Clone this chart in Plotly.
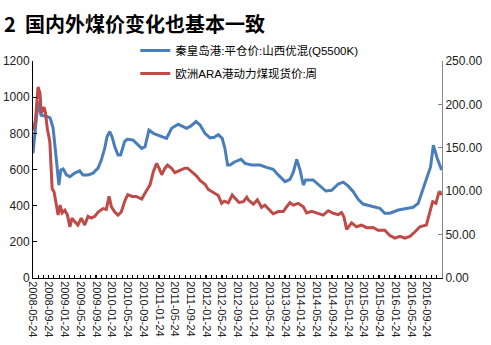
import plotly.graph_objects as go

# 秦皇岛港:平仓价:山西优混(Q5500K)  (left axis, 元/吨)
qhd_dates = [
    "2008-05-24", "2008-06-09", "2008-07-02", "2008-07-25", "2008-09-02", "2008-10-03",
    "2008-10-26", "2008-11-13", "2008-11-29", "2008-12-10", "2008-12-25", "2009-01-12",
    "2009-02-07", "2009-03-05", "2009-04-11", "2009-05-20", "2009-06-14", "2009-07-23",
    "2009-08-31", "2009-10-09", "2009-11-03", "2009-11-30", "2009-12-17", "2010-01-07",
    "2010-01-25", "2010-02-15", "2010-03-12", "2010-04-01", "2010-05-02", "2010-05-22",
    "2010-07-05", "2010-08-13", "2010-09-11", "2010-10-07", "2010-11-06", "2010-12-10",
    "2011-01-31", "2011-03-22", "2011-04-30", "2011-06-20", "2011-07-16", "2011-08-24",
    "2011-09-27", "2011-11-05", "2011-12-06", "2012-01-13", "2012-02-21", "2012-03-25",
    "2012-04-25", "2012-05-25", "2012-06-15", "2012-07-06", "2012-07-24", "2012-09-01",
    "2012-10-18", "2012-11-18", "2013-01-08", "2013-03-13", "2013-05-03", "2013-06-23",
    "2013-08-01", "2013-09-23", "2013-10-31", "2013-11-26", "2013-12-22", "2014-01-17",
    "2014-02-11", "2014-03-01", "2014-04-28", "2014-06-19", "2014-08-04", "2014-09-18",
    "2014-11-08", "2014-12-17", "2015-01-25", "2015-03-04", "2015-04-11", "2015-05-19",
    "2015-07-23", "2015-09-26", "2015-11-03", "2015-12-12", "2016-02-15", "2016-04-20",
    "2016-06-09", "2016-07-18", "2016-08-21", "2016-09-22", "2016-10-22", "2016-11-12",
    "2016-12-12", "2017-01-15",
]
qhd_price = [
    690, 800, 975, 900, 895, 885,
    830, 708, 597, 514, 597, 603,
    570, 560, 580, 592, 570, 570,
    580, 608, 652, 719, 781, 809,
    781, 726, 680, 680, 754, 767,
    763, 735, 717, 726, 818, 800,
    785, 772, 828, 850, 841, 828,
    841, 865, 846, 800, 775, 778,
    793, 772, 717, 625, 625, 643,
    656, 634, 625, 625, 612, 601,
    570, 533, 546, 585, 656, 597,
    514, 542, 542, 509, 481, 485,
    520, 530, 508, 477, 435, 409,
    398, 385, 358, 358, 376, 385,
    391, 413, 487, 551, 616, 735,
    662, 597,
]

# 欧洲ARA港动力煤现货价:周  (right axis)
ara_dates = [
    "2008-05-24", "2008-06-12", "2008-07-02", "2008-07-17", "2008-07-27", "2008-08-17",
    "2008-08-28", "2008-09-12", "2008-10-01", "2008-10-19", "2008-11-03", "2008-11-21",
    "2008-12-04", "2008-12-20", "2009-01-04", "2009-01-25", "2009-02-14", "2009-03-05",
    "2009-03-21", "2009-04-11", "2009-05-06", "2009-06-01", "2009-06-28", "2009-07-23",
    "2009-08-18", "2009-09-14", "2009-10-09", "2009-11-17", "2009-12-12", "2010-01-02",
    "2010-01-20", "2010-02-15", "2010-03-12", "2010-04-06", "2010-05-07", "2010-05-27",
    "2010-06-28", "2010-07-31", "2010-08-26", "2010-09-11", "2010-10-20", "2010-11-14",
    "2010-12-10", "2011-01-05", "2011-01-23", "2011-02-13", "2011-03-10", "2011-03-30",
    "2011-04-30", "2011-05-25", "2011-07-03", "2011-08-11", "2011-09-01", "2011-10-02",
    "2011-11-10", "2011-12-06", "2012-01-13", "2012-02-08", "2012-03-10", "2012-03-30",
    "2012-04-25", "2012-05-21", "2012-06-10", "2012-07-11", "2012-08-11", "2012-09-01",
    "2012-10-02", "2012-11-05", "2012-12-01", "2012-12-13", "2013-01-21", "2013-02-21",
    "2013-03-25", "2013-04-20", "2013-05-23", "2013-06-23", "2013-08-01", "2013-09-09",
    "2013-10-05", "2013-10-31", "2013-11-26", "2014-01-03", "2014-02-11", "2014-03-09",
    "2014-04-17", "2014-06-06", "2014-07-15", "2014-08-23", "2014-10-01", "2014-11-08",
    "2014-12-04", "2014-12-22", "2015-01-12", "2015-02-20", "2015-03-29", "2015-05-07",
    "2015-06-15", "2015-08-04", "2015-09-12", "2015-11-03", "2015-12-12", "2016-01-20",
    "2016-02-28", "2016-04-06", "2016-05-15", "2016-06-22", "2016-07-31", "2016-09-19",
    "2016-10-17", "2016-11-07", "2016-12-02", "2016-12-28", "2017-01-15",
]
ara_price = [
    170, 182, 220, 213, 190, 197,
    190, 172, 157, 103, 99, 86,
    72.5, 84, 75, 78, 72.5, 59,
    69, 65, 61, 69, 61, 71,
    69, 71, 76, 80, 79, 94,
    82, 76, 72.5, 76, 90, 96,
    94, 94, 92, 91, 101, 107,
    122.5, 132, 126.5, 119, 126.5, 130,
    126.5, 121.5, 124, 126.5, 126.5, 122.5,
    117.5, 112.5, 108, 102, 99, 98,
    95, 86, 88.5, 86.5, 95.6, 92,
    87, 88, 93, 90, 85, 90,
    81.5, 84, 79, 74, 76.5, 76.5,
    82, 87, 84, 86, 82, 75,
    76.7, 74.6, 72.5, 77.5, 74.6, 73,
    75.4, 70.6, 56, 63.5, 59, 61,
    58, 58.3, 55, 55, 49, 46,
    48, 46, 48, 53, 59, 61,
    76.5, 88, 86, 100, 95.6,
]

tick_labels = [
    "2008-05-24", "2008-09-24", "2009-01-24", "2009-05-24", "2009-09-24",
    "2010-01-24", "2010-05-24", "2010-09-24", "2011-01-24", "2011-05-24",
    "2011-09-24", "2012-01-24", "2012-05-24", "2012-09-24", "2013-01-24",
    "2013-05-24", "2013-09-24", "2014-01-24", "2014-05-24", "2014-09-24",
    "2015-01-24", "2015-05-24", "2015-09-24", "2016-01-24", "2016-05-24",
    "2016-09-24",
]

title_text = "2  国内外煤价变化也基本一致"
name_qhd = "秦皇岛港:平仓价:山西优混(Q5500K)"
name_ara = "欧洲ARA港动力煤现货价:周"

BLUE = "#4a7ebb"
RED = "#be4b48"
FONT = "Liberation Sans, Arial, Noto Sans CJK SC, sans-serif"

fig = go.Figure()
fig.add_trace(go.Scatter(
    x=qhd_dates, y=qhd_price, name=name_qhd, mode="lines",
    line=dict(color=BLUE, width=3), yaxis="y", legendgroup="qhd",
))
fig.add_trace(go.Scatter(
    x=ara_dates, y=ara_price, name=name_ara, mode="lines",
    line=dict(color=RED, width=3), yaxis="y2", legendgroup="ara",
))

fig.update_layout(
    width=491, height=345,
    margin=dict(l=33, r=49, t=61, b=67, pad=0),
    paper_bgcolor="white", plot_bgcolor="white",
    font=dict(family=FONT, size=11, color="#000000"),
    showlegend=True,
    legend=dict(
        x=0.25, y=1.115, xanchor="left", yanchor="top",
        bgcolor="rgba(0,0,0,0)", font=dict(size=11.5, family=FONT),
        tracegroupgap=4, itemwidth=30,
    ),
    xaxis=dict(
        type="date", automargin=False,
        range=["2008-05-24", "2017-01-18"],
        tickmode="array", tickvals=tick_labels, ticktext=tick_labels,
        tickangle=90, tickfont=dict(size=11, color="#222222"),
        showgrid=False, zeroline=False,
        showline=True, linecolor="#000000", linewidth=1,
        ticks="inside", ticklen=3, tickcolor="#000000",
        minor=dict(ticks="inside", ticklen=3, tickcolor="#000000",
                   dtick=3.5e9, tick0="2008-05-24"),
    ),
    yaxis=dict(
        range=[0, 1200], dtick=200, tick0=0, automargin=False,
        showgrid=False, zeroline=False,
        showline=True, linecolor="#000000", linewidth=1,
        ticks="inside", ticklen=4, tickcolor="#000000",
        tickfont=dict(size=12, color="#222222"),
    ),
    yaxis2=dict(
        range=[0, 250], dtick=50, tick0=0, tickformat=".2f", automargin=False,
        overlaying="y", side="right",
        showgrid=False, zeroline=False,
        showline=True, linecolor="#868686", linewidth=1,
        ticks="inside", ticklen=4, tickcolor="#868686",
        tickfont=dict(size=12, color="#222222"),
    ),
    annotations=[dict(
        text="<b>" + title_text + "</b>", xref="paper", yref="paper",
        x=-33 / 409, y=1 + 38 / 217, xanchor="left", yanchor="middle",
        xshift=2, showarrow=False,
        font=dict(size=20, family="Noto Sans CJK SC, sans-serif", color="#000000"),
    )],
)

fig.write_html("out.html")
